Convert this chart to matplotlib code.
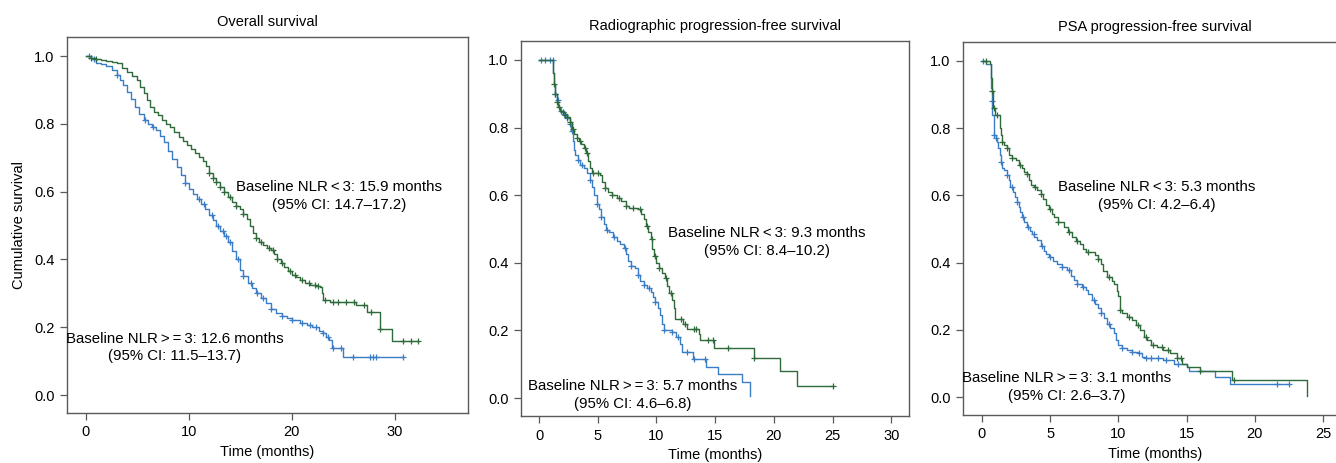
import numpy as np
import matplotlib.pyplot as plt

plt.rcParams['font.family'] = 'Liberation Sans'

GREEN = '#2e6a3a'
BLUE = '#3a7cc6'
FRAME = '#5a5a5a'

titles = ['Overall survival', 'Radiographic progression-free survival',
          'PSA progression-free survival']

# Overall survival: NLR < 3 (lo) and NLR >= 3 (hi)
os_lo_t = [0, 0.5, 1.0, 1.5, 2.0, 2.5, 3.0, 3.5, 4.0, 4.5, 5.0, 5.3, 5.6, 5.9, 6.2,
           6.6, 7.0, 7.4, 7.8, 8.2, 8.6, 9.0, 9.4, 9.8, 10.2, 10.6, 11.0, 11.4, 11.7,
           12.0, 12.3, 12.6, 13.0, 13.4, 13.8, 14.2, 14.6, 15.0, 15.3, 15.6, 15.9,
           16.2, 16.5, 16.8, 17.2, 17.6, 18.0, 18.3, 18.6, 18.9, 19.2, 19.6, 20.0,
           20.4, 20.8, 21.3, 21.8, 22.3, 22.7, 22.9, 23.0, 23.7, 26.2, 27.3, 28.6,
           29.7, 32.2]
os_lo_s = [1.0, 0.995, 0.99, 0.987, 0.985, 0.983, 0.978, 0.965, 0.952, 0.94, 0.928,
           0.91, 0.89, 0.87, 0.85, 0.835, 0.825, 0.812, 0.80, 0.79, 0.775, 0.762,
           0.75, 0.738, 0.727, 0.715, 0.703, 0.69, 0.675, 0.655, 0.64, 0.628, 0.615,
           0.60, 0.585, 0.57, 0.558, 0.548, 0.535, 0.52, 0.50, 0.478, 0.462, 0.45,
           0.442, 0.435, 0.428, 0.415, 0.40, 0.39, 0.378, 0.365, 0.355, 0.347, 0.34,
           0.33, 0.325, 0.322, 0.318, 0.30, 0.28, 0.275, 0.265, 0.245, 0.194, 0.16,
           0.16]
os_lo_cens = [0.5, 1.0, 12.0, 12.3, 12.6, 13.0, 13.4, 14.0, 14.6, 15.3, 16.5, 17.0,
              17.8, 18.2, 18.6, 19.0, 19.8, 20.3, 21.0, 21.7, 22.2, 22.5, 23.2, 24.0,
              24.5, 25.3, 26.0, 27.0, 27.7, 28.6, 30.8, 31.6, 32.2]

os_hi_t = [0, 0.5, 1.0, 1.5, 2.0, 2.5, 3.0, 3.3, 3.6, 4.0, 4.4, 4.8, 5.2, 5.6, 6.0,
           6.4, 6.8, 7.2, 7.6, 8.0, 8.4, 8.8, 9.2, 9.6, 10.0, 10.4, 10.8, 11.2, 11.6,
           12.0, 12.3, 12.6, 13.0, 13.4, 13.8, 14.2, 14.6, 15.0, 15.3, 15.7, 16.1,
           16.5, 17.0, 17.5, 18.0, 18.5, 19.0, 19.5, 20.0, 20.8, 21.5, 22.0, 22.6,
           23.0, 23.3, 23.6, 23.9, 25.0, 30.8]
os_hi_s = [1.0, 0.99, 0.98, 0.975, 0.97, 0.96, 0.945, 0.93, 0.915, 0.895, 0.872,
           0.85, 0.83, 0.81, 0.80, 0.79, 0.782, 0.765, 0.745, 0.72, 0.695, 0.673,
           0.65, 0.625, 0.607, 0.592, 0.578, 0.563, 0.548, 0.53, 0.515, 0.498, 0.485,
           0.47, 0.45, 0.425, 0.40, 0.37, 0.35, 0.33, 0.315, 0.30, 0.285, 0.27, 0.255,
           0.243, 0.233, 0.227, 0.22, 0.212, 0.207, 0.20, 0.19, 0.183, 0.17, 0.162,
           0.139, 0.112, 0.112]
os_hi_cens = [0.3, 0.8, 3.0, 5.7, 6.5, 9.6, 11.0, 11.5, 12.2, 12.8, 13.3, 13.6, 14.0,
              14.8, 15.3, 16.0, 16.6, 17.2, 18.0, 19.0, 20.0, 21.0, 21.8, 22.3, 23.0,
              23.5, 24.0, 24.8, 25.9, 27.6, 27.9, 28.2, 30.8]

# Radiographic PFS
rpfs_lo_t = [0, 1.22, 1.3, 1.4, 1.5, 1.65, 1.8, 2.0, 2.2, 2.4, 2.6, 2.8, 3.0, 3.2,
             3.4, 3.6, 3.8, 4.0, 4.15, 4.3, 4.5, 5.2, 5.4, 5.6, 5.9, 6.2, 6.6, 7.0,
             7.4, 7.7, 8.4, 8.7, 8.9, 9.1, 9.3, 9.5, 9.65, 9.8, 10.0, 10.2, 10.5, 10.7,
             10.9, 11.1, 11.3, 11.45, 11.6, 12.3, 12.6, 13.6, 13.7, 14.86, 18.3, 20.5,
             22.0, 25.0]
rpfs_lo_s = [1.0, 0.96, 0.93, 0.90, 0.875, 0.86, 0.85, 0.845, 0.838, 0.83, 0.815,
             0.795, 0.78, 0.77, 0.76, 0.75, 0.74, 0.725, 0.70, 0.68, 0.667, 0.66, 0.64,
             0.62, 0.608, 0.60, 0.592, 0.582, 0.568, 0.563, 0.558, 0.545, 0.53, 0.51,
             0.49, 0.47, 0.44, 0.42, 0.40, 0.386, 0.37, 0.355, 0.33, 0.31, 0.29, 0.265,
             0.234, 0.219, 0.205, 0.19, 0.172, 0.147, 0.118, 0.079, 0.037, 0.037]
rpfs_lo_cens = [1.3, 1.4, 1.5, 1.7, 2.0, 2.2, 2.4, 2.6, 2.9, 3.2, 3.5, 3.9, 4.1, 4.6,
                5.0, 5.6, 6.2, 6.8, 7.4, 8.0, 8.6, 9.2, 9.6, 9.9, 10.2, 10.8, 11.2,
                12.1, 12.4, 13.2, 13.4, 14.4, 14.8, 16.1, 18.3, 25.0]

rpfs_hi_t = [0, 1.22, 1.3, 1.4, 1.5, 1.65, 1.8, 2.1, 2.4, 2.6, 2.75, 2.9, 3.0, 3.1,
             3.3, 3.5, 3.8, 4.1, 4.3, 4.5, 4.7, 4.9, 5.1, 5.3, 5.5, 5.7, 6.0, 6.3, 6.6,
             6.9, 7.2, 7.4, 7.6, 7.8, 8.2, 8.4, 8.6, 8.9, 9.2, 9.5, 9.7, 9.9, 10.1,
             10.3, 10.45, 10.6, 11.3, 11.7, 12.0, 12.2, 13.15, 14.2, 15.2, 17.3, 18.0]
rpfs_hi_s = [1.0, 0.96, 0.93, 0.90, 0.88, 0.86, 0.848, 0.84, 0.828, 0.81, 0.79, 0.76,
             0.735, 0.72, 0.705, 0.69, 0.68, 0.665, 0.645, 0.625, 0.60, 0.575, 0.56,
             0.535, 0.515, 0.498, 0.49, 0.475, 0.465, 0.455, 0.443, 0.425, 0.405,
             0.39, 0.385, 0.365, 0.347, 0.335, 0.325, 0.315, 0.30, 0.285, 0.265, 0.245,
             0.22, 0.20, 0.195, 0.18, 0.16, 0.136, 0.116, 0.091, 0.072, 0.047, 0.005]
rpfs_hi_cens = [0.2, 0.5, 0.9, 1.2, 1.4, 1.6, 1.9, 2.1, 2.4, 2.6, 2.8, 3.3, 3.7, 4.3,
                4.9, 5.3, 5.8, 6.4, 7.3, 7.8, 8.4, 8.9, 9.4, 9.9, 10.6, 11.3, 11.8,
                12.6, 13.2, 14.1]

# PSA PFS
psa_lo_t = [0, 0.6, 0.65, 0.7, 0.8, 0.98, 1.34, 1.4, 1.47, 1.6, 1.8, 2.0, 2.2, 2.5,
            2.7, 2.9, 3.1, 3.3, 3.42, 3.6, 3.8, 4.0, 4.3, 4.5, 4.7, 4.9, 5.1, 5.3, 5.6,
            6.0, 6.3, 6.6, 6.9, 7.2, 7.4, 7.6, 8.3, 8.5, 8.7, 8.9, 9.2, 9.5, 9.7, 9.9,
            10.0, 10.1, 10.3, 10.6, 11.0, 11.3, 11.6, 11.9, 12.1, 12.4, 12.8, 13.3,
            13.8, 14.3, 14.65, 15.0, 16.0, 18.35, 23.8]
psa_lo_s = [1.0, 0.99, 0.95, 0.91, 0.86, 0.84, 0.80, 0.78, 0.76, 0.75, 0.74, 0.72,
            0.71, 0.705, 0.69, 0.68, 0.67, 0.663, 0.645, 0.63, 0.624, 0.615, 0.605,
            0.588, 0.57, 0.56, 0.545, 0.535, 0.52, 0.505, 0.49, 0.476, 0.465, 0.455,
            0.44, 0.431, 0.422, 0.41, 0.397, 0.375, 0.357, 0.345, 0.335, 0.315, 0.30,
            0.26, 0.25, 0.239, 0.23, 0.215, 0.199, 0.18, 0.17, 0.155, 0.148, 0.14,
            0.13, 0.115, 0.10, 0.091, 0.079, 0.051, 0.002]
psa_lo_cens = [0.3, 0.7, 0.9, 1.1, 1.5, 1.8, 2.2, 2.8, 3.3, 3.9, 4.3, 5.0, 5.6, 6.4,
               7.0, 7.8, 8.5, 9.3, 10.1, 10.8, 11.4, 12.0, 12.5, 13.2, 13.6, 14.3,
               14.6, 16.0, 18.5]

psa_hi_t = [0, 0.3, 0.66, 0.7, 0.76, 0.86, 1.0, 1.1, 1.2, 1.3, 1.4, 1.47, 1.6, 1.8,
            1.95, 2.08, 2.25, 2.44, 2.6, 2.7, 2.8, 2.93, 3.1, 3.3, 3.5, 3.67, 3.85,
            4.03, 4.3, 4.52, 4.7, 4.9, 5.2, 5.5, 5.9, 6.23, 6.5, 6.72, 7.0, 7.33, 7.6,
            7.8, 8.1, 8.3, 8.5, 8.7, 8.95, 9.16, 9.4, 9.65, 9.85, 10.0, 10.3, 10.6,
            11.0, 11.4, 11.7, 12.0, 13.3, 14.05, 15.0, 15.15, 17.05, 18.15, 22.5]
psa_hi_s = [1.0, 0.99, 0.92, 0.88, 0.84, 0.78, 0.77, 0.76, 0.74, 0.72, 0.70, 0.68,
            0.675, 0.66, 0.645, 0.624, 0.61, 0.594, 0.58, 0.565, 0.55, 0.535, 0.52,
            0.505, 0.495, 0.486, 0.476, 0.466, 0.45, 0.436, 0.425, 0.417, 0.405,
            0.397, 0.387, 0.377, 0.36, 0.347, 0.337, 0.328, 0.318, 0.308, 0.29, 0.278,
            0.264, 0.249, 0.235, 0.219, 0.205, 0.19, 0.17, 0.155, 0.147, 0.14, 0.135,
            0.13, 0.12, 0.115, 0.11, 0.10, 0.091, 0.079, 0.059, 0.039, 0.039]
psa_hi_cens = [0.1, 0.7, 0.9, 1.0, 1.4, 1.8, 2.2, 2.6, 3.0, 3.4, 3.8, 4.4, 5.0, 5.9,
               6.4, 7.0, 7.4, 8.2, 8.7, 9.3, 10.3, 11.0, 11.5, 12.0, 12.4, 12.9, 13.5,
               14.4, 21.6, 22.5]

lo_labels = ['Baseline NLR\u2009<\u20093: 15.9 months\n(95% CI: 14.7\u201317.2)',
             'Baseline NLR\u2009<\u20093: 9.3 months\n(95% CI: 8.4\u201310.2)',
             'Baseline NLR\u2009<\u20093: 5.3 months\n(95% CI: 4.2\u20136.4)']
hi_labels = ['Baseline NLR\u2009>\u2009=\u20093: 12.6 months\n(95% CI: 11.5\u201313.7)',
             'Baseline NLR\u2009>\u2009=\u20093: 5.7 months\n(95% CI: 4.6\u20136.8)',
             'Baseline NLR\u2009>\u2009=\u20093: 3.1 months\n(95% CI: 2.6\u20133.7)']


def km(ax, t, s, cens, color):
    t = np.asarray(t)
    s = np.asarray(s)
    ax.plot(t, s, drawstyle='steps-post', color=color, lw=1.0)
    c = np.asarray(cens)
    idx = np.searchsorted(t, c, side='right') - 1
    ax.plot(c, s[idx], ls='none', marker='+', ms=5, mew=0.9, color=color)


fig = plt.figure(figsize=(13.36, 4.63), dpi=100)
axes = [fig.add_axes([0.0501, 0.108, 0.3002, 0.812]),
        fig.add_axes([0.390, 0.1015, 0.2904, 0.810]),
        fig.add_axes([0.7208, 0.1037, 0.2875, 0.8056])]

curves = [(os_lo_t, os_lo_s, os_lo_cens, os_hi_t, os_hi_s, os_hi_cens),
          (rpfs_lo_t, rpfs_lo_s, rpfs_lo_cens, rpfs_hi_t, rpfs_hi_s, rpfs_hi_cens),
          (psa_lo_t, psa_lo_s, psa_lo_cens, psa_hi_t, psa_hi_s, psa_hi_cens)]
xlims = [(-1.84, 37.1), (-1.53, 31.5), (-1.39, 26.76)]
xticks = [[0, 10, 20, 30], [0, 5, 10, 15, 20, 25, 30], [0, 5, 10, 15, 20, 25]]
lo_pos = [(24.6, 0.586), (19.4, 0.462), (12.8, 0.598)]
hi_pos = [(8.6, 0.14), (7.95, 0.009), (6.23, 0.03)]

for i, ax in enumerate(axes):
    lt, ls_, lc, ht, hs, hc = curves[i]
    km(ax, ht, hs, hc, BLUE)
    km(ax, lt, ls_, lc, GREEN)
    ax.set_xlim(*xlims[i])
    ax.set_ylim(-0.053, 1.056)
    ax.set_xticks(xticks[i])
    ax.set_yticks(np.arange(0, 1.01, 0.2))
    ax.set_yticklabels(['%.1f' % v for v in np.arange(0, 1.01, 0.2)])
    for sp in ax.spines.values():
        sp.set_color(FRAME)
        sp.set_linewidth(1.0)
    ax.tick_params(direction='out', length=5, width=0.9, color=FRAME,
                   labelsize=10.5, pad=4)
    ax.set_title(titles[i], fontsize=10.5, pad=8)
    ax.set_xlabel('Time (months)', fontsize=10.5, labelpad=4)
    ax.text(*lo_pos[i], lo_labels[i], ha='center', va='center', fontsize=10.8,
            linespacing=1.35)
    ax.text(*hi_pos[i], hi_labels[i], ha='center', va='center', fontsize=10.8,
            linespacing=1.35)

axes[0].set_ylabel('Cumulative survival', fontsize=10.5, labelpad=6)

fig.savefig('out.png', dpi=100)
